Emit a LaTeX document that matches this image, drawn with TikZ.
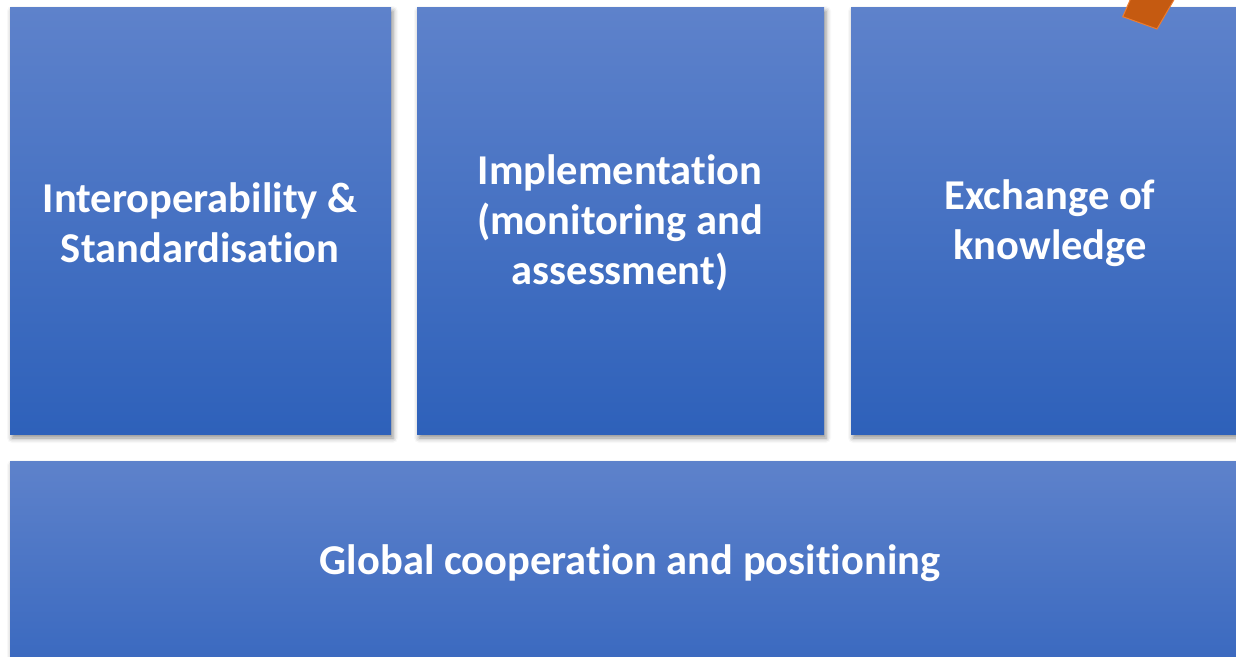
\documentclass[tikz,border=0pt]{standalone}
\usepackage{fontspec}
\setmainfont{Carlito}[Ligatures={NoCommon}]
\usetikzlibrary{shadows.blur}
\definecolor{topblue}{HTML}{5E82CB}
\definecolor{botblue}{HTML}{2E61BA}
\definecolor{midblue}{HTML}{3767BF}
\definecolor{orfill}{HTML}{C55A11}
\definecolor{orline}{HTML}{ED7D31}
\tikzset{
  panel/.style={rectangle, inner sep=0pt, outer sep=0pt, anchor=north west,
    top color=topblue, bottom color=botblue,
    blur shadow={shadow xshift=2pt, shadow yshift=-4pt, shadow blur radius=5pt, shadow opacity=45}},
  label/.style={text=white, font=\fontsize{42.5}{50}\selectfont\bfseries, align=center},
}
\begin{document}
\begin{tikzpicture}[x=1pt,y=-1pt]
\useasboundingbox (0,0) rectangle (1236,656);
\clip (0,0) rectangle (1236,656);
\node[panel, minimum width=381pt, minimum height=427pt] (b1) at (10,7) {};
\node[panel, minimum width=407pt, minimum height=427pt] (b2) at (417,7) {};
\node[panel, minimum width=399pt, minimum height=427pt] (b3) at (851,7) {};
\node[panel, minimum width=1240pt, minimum height=230pt, bottom color=midblue!80!botblue] (b4) at (10,461) {};
\node[label] (t1) at (200,223) {Interoperability \&\\Standardisation};
\node[label] (t2) at (620,223) {Implementation\\(monitoring and\\assessment)};
\node[label] (t3) at (1050,223) {Exchange of\\knowledge};
\node[label] (t4) at (630,563) {Global cooperation and positioning};
\filldraw[fill=orfill, draw=orline, line width=1pt]
  (1122.7,16.7) -- (1157,29) -- (1175,-2) -- (1131,-2) -- cycle;
\end{tikzpicture}
\end{document}
